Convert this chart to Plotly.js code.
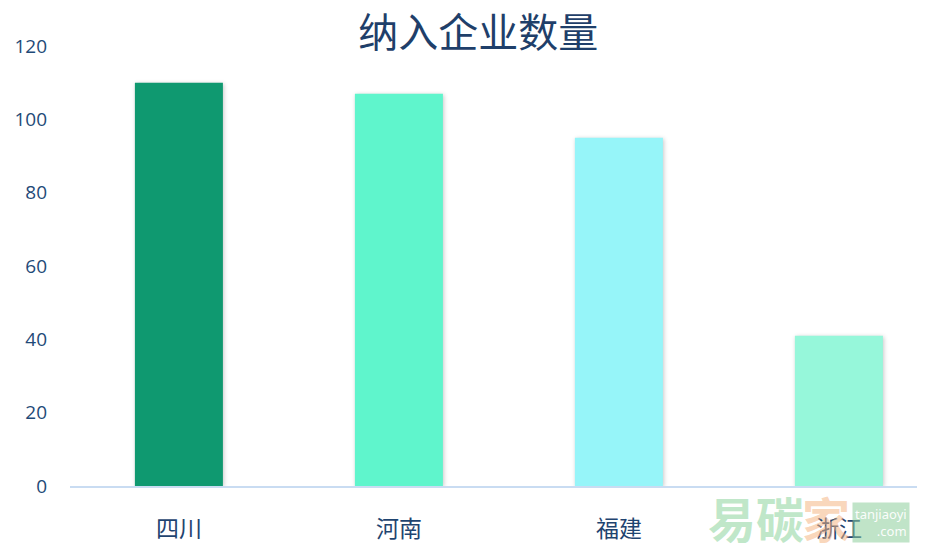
<!DOCTYPE html>
<html>
<head>
<meta charset="utf-8">
<script src="https://cdn.plot.ly/plotly-3.0.1.min.js"></script>
<style>
  html, body { margin: 0; padding: 0; background: #fff; }
  #chart { width: 927px; height: 553px; }
  .bars .point path { filter: drop-shadow(1px 1px 2px rgba(0,0,0,0.22)); }
</style>
</head>
<body>
<div id="chart"></div>
<script>
// Number of enterprises included, by province
const provinces = ['四川', '河南', '福建', '浙江'];
const counts = [110, 107, 95, 41];
const barColors = ['#0f9970', '#5ff5cc', '#96f5f9', '#96f7da'];
const yTicks = [0, 20, 40, 60, 80, 100, 120];

const trace = {
  type: 'bar',
  x: provinces,
  y: counts,
  width: 0.4,
  marker: { color: barColors, line: { width: 0 } },
  hoverinfo: 'x+y'
};

const layout = {
  width: 927,
  height: 553,
  margin: { l: 70, r: 10, t: 46, b: 67 },
  paper_bgcolor: '#ffffff',
  plot_bgcolor: '#ffffff',
  showlegend: false,
  font: { family: '"Noto Sans", "Noto Sans CJK SC", sans-serif', color: '#1f4470' },
  title: {
    text: '纳入企业数量',
    font: { family: '"Noto Sans CJK SC", serif', size: 40, color: '#1f3f6a' },
    x: 0.516, xref: 'container', xanchor: 'center',
    y: 0.94, yref: 'container', yanchor: 'middle'
  },
  xaxis: {
    type: 'category',
    range: [-0.495, 3.355],
    showline: true,
    linecolor: '#c9dcf2',
    linewidth: 2,
    showgrid: false,
    zeroline: false,
    ticks: '',
    ticklabelstandoff: 21,
    tickfont: { family: '"Noto Sans CJK SC", sans-serif', size: 23, color: '#1f4470' }
  },
  yaxis: {
    range: [0, 120],
    tickvals: yTicks,
    ticktext: yTicks.map(String),
    showgrid: false,
    zeroline: false,
    showline: false,
    ticks: '',
    ticklabelstandoff: 22,
    tickfont: { family: '"Open Sans", "Noto Sans", sans-serif', size: 19, color: '#1f4a78' }
  },
  annotations: [
    {
      text: '易碳', xref: 'paper', yref: 'paper', x: 0.81, y: -0.07,
      xanchor: 'center', yanchor: 'middle', showarrow: false,
      font: { family: '"Noto Sans CJK SC", sans-serif', size: 48, color: 'rgba(150,215,165,0.6)', weight: 'bold' }
    },
    {
      text: '家', xref: 'paper', yref: 'paper', x: 0.893, y: -0.07,
      xanchor: 'center', yanchor: 'middle', showarrow: false,
      font: { family: '"Noto Sans CJK SC", sans-serif', size: 48, color: 'rgba(245,180,130,0.55)', weight: 'bold' }
    },
    {
      text: 'tanjiaoyi<br>   .com', xref: 'paper', yref: 'paper', x: 0.958, y: -0.083,
      xanchor: 'center', yanchor: 'middle', showarrow: false, align: 'right',
      bgcolor: 'rgba(140,205,155,0.55)', borderpad: 2,
      font: { family: '"Noto Sans", sans-serif', size: 13, color: 'rgba(255,255,255,0.95)' }
    }
  ]
};

Plotly.newPlot('chart', [trace], layout, { displayModeBar: false, staticPlot: true });
</script>
</body>
</html>
